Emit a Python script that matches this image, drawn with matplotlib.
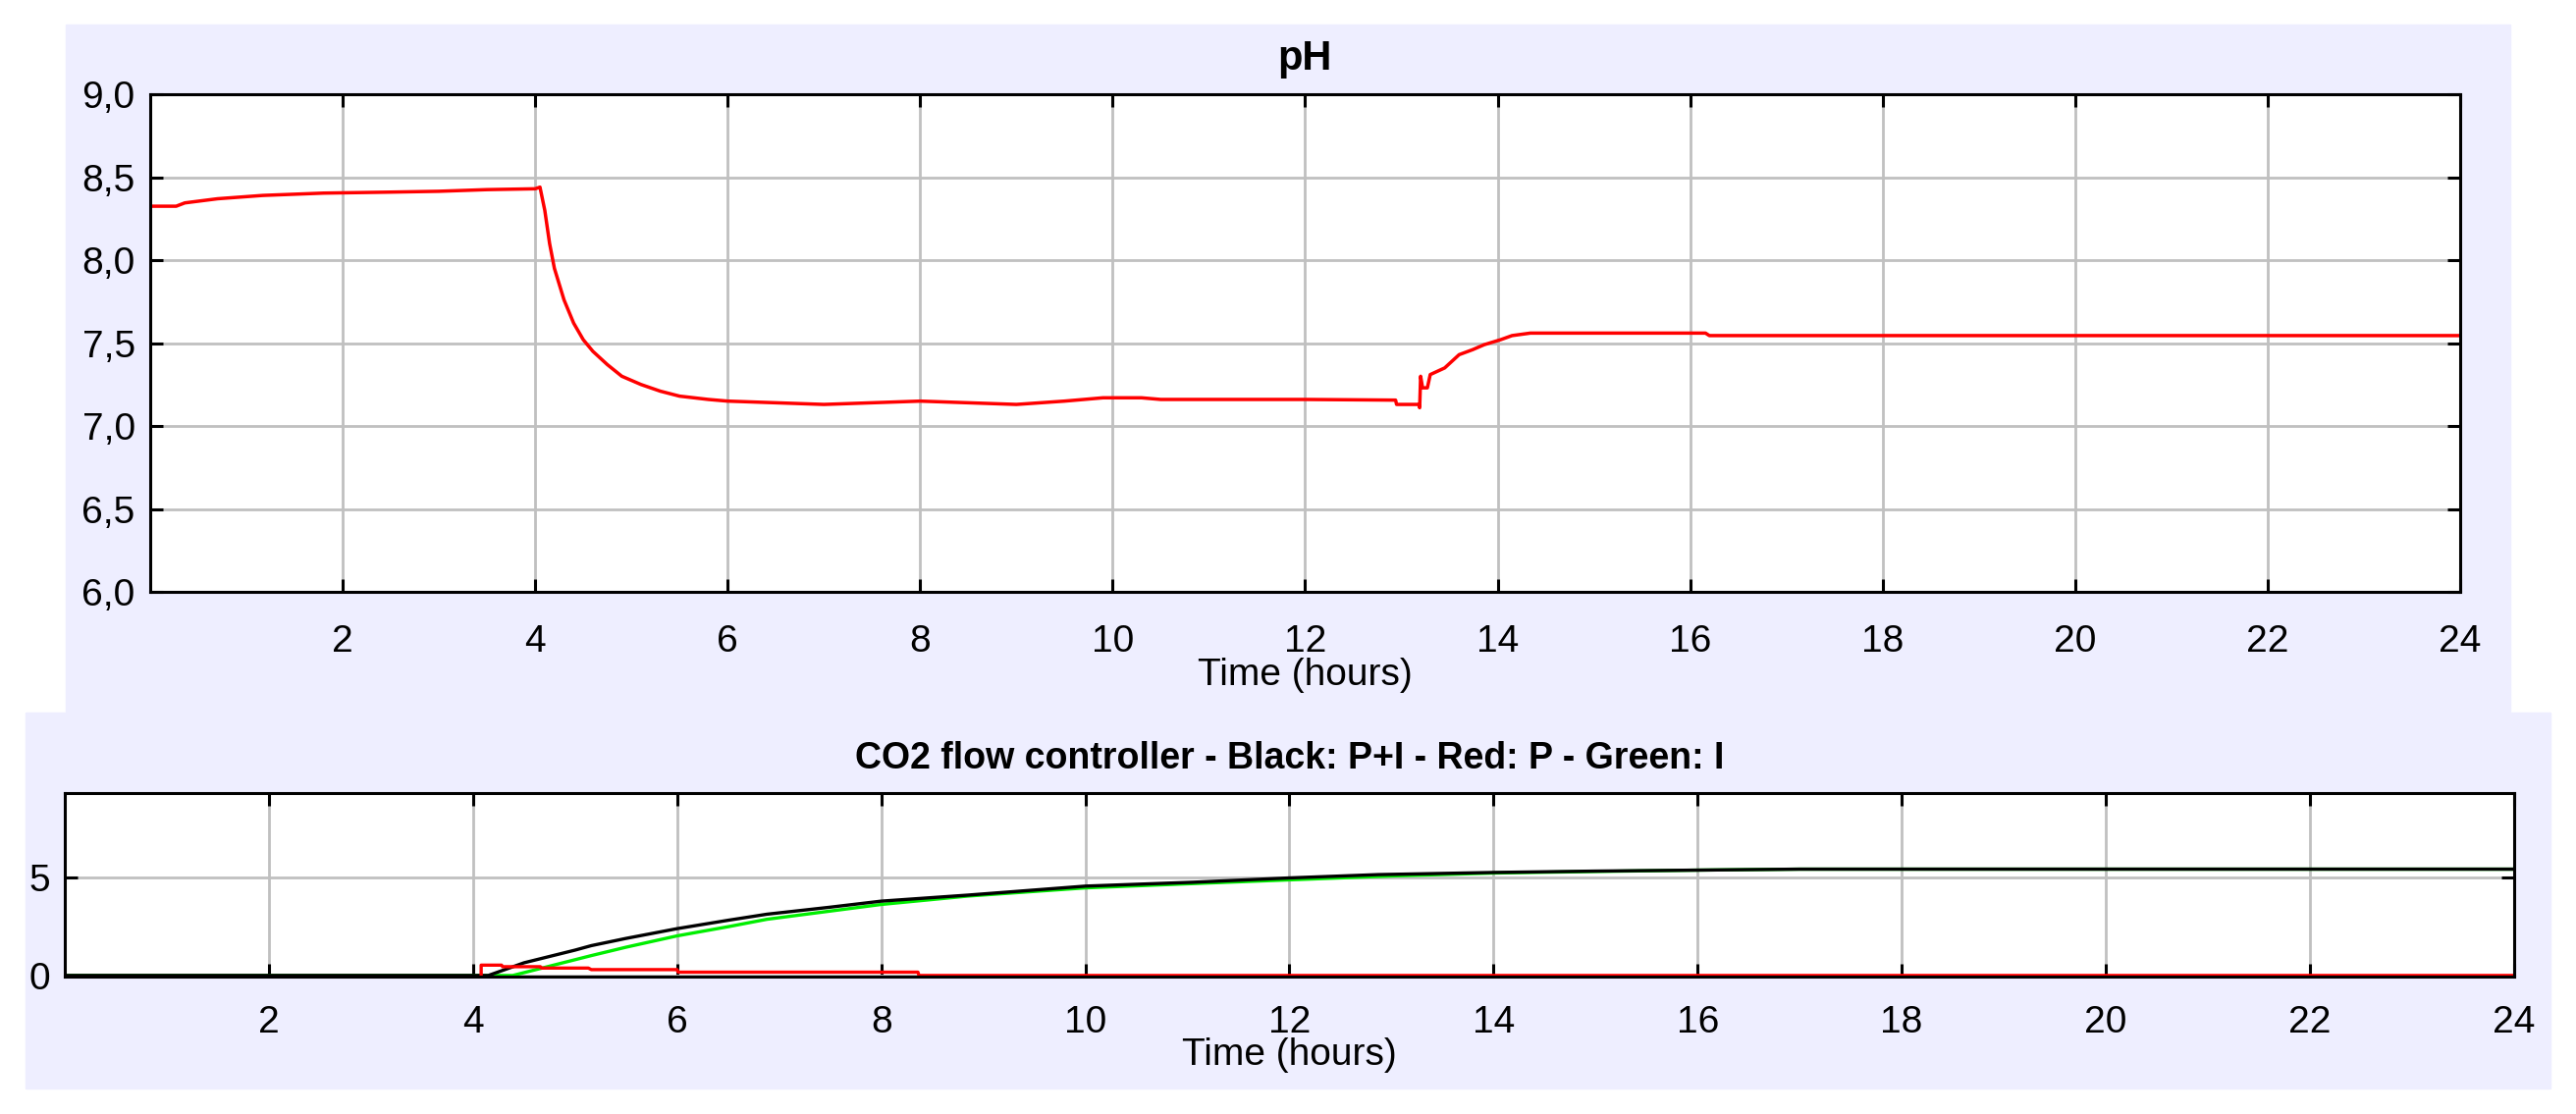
import matplotlib
matplotlib.use("Agg")
from matplotlib import pyplot as plt
from matplotlib.patches import Rectangle

# pH over the day
ph_time = [0.0, 0.27, 0.36, 0.7, 1.17, 1.8, 2.5, 3.0, 3.5, 4.0, 4.05,
           4.1, 4.15, 4.2, 4.3, 4.4, 4.5, 4.6, 4.75, 4.9, 5.1, 5.3, 5.5,
           5.8, 6.0, 6.5, 7.0, 7.5, 8.0, 8.5, 9.0, 9.5, 9.9, 10.3, 10.5,
           11.0, 12.0, 12.94, 12.95, 13.18, 13.19, 13.2, 13.22, 13.27,
           13.3, 13.45, 13.6, 13.74, 13.86, 14.03, 14.15, 14.34, 16.16,
           16.2, 24.0]
ph_value = [8.325, 8.325, 8.345, 8.37, 8.39, 8.404, 8.41, 8.415, 8.425, 8.43, 8.44,
            8.30, 8.10, 7.95, 7.76, 7.62, 7.52, 7.45, 7.37, 7.30, 7.25, 7.21, 7.18,
            7.16, 7.15, 7.14, 7.13, 7.14, 7.15, 7.14, 7.13, 7.15, 7.17, 7.17, 7.16,
            7.16, 7.16, 7.156, 7.13, 7.13, 7.11, 7.30, 7.23, 7.23,
            7.31, 7.35, 7.43, 7.46, 7.49, 7.52, 7.545, 7.56, 7.56,
            7.545, 7.545]

# CO2 flow controller terms
pi_time = [0.0, 4.15, 4.5, 5.0, 5.16, 5.5, 6.0, 6.5, 6.88, 7.5, 8.0, 8.85,
           10.0, 11.06, 12.0, 12.87, 14.0, 15.0, 16.0, 17.0, 24.0]
pi_value = [0.0, 0.0, 0.65, 1.3, 1.53, 1.9, 2.4, 2.83, 3.14, 3.5, 3.81, 4.12,
            4.58, 4.78, 5.0, 5.17, 5.28, 5.35, 5.4, 5.45, 5.45]

p_time = [4.08, 4.08, 4.28, 4.29, 4.66, 4.67, 5.13, 5.16, 6.0, 6.01, 8.36, 8.37, 24.0]
p_value = [0.0, 0.53, 0.53, 0.45, 0.45, 0.38, 0.38, 0.3, 0.3, 0.17, 0.17, 0.0, 0.0]

i_time = [0.0, 4.39, 5.16, 5.5, 6.0, 6.5, 6.88, 7.5, 8.0, 8.85, 10.0, 11.06,
          12.0, 13.0, 14.0, 15.0, 16.0, 17.0, 24.0]
i_value = [0.0, 0.0, 1.02, 1.45, 2.03, 2.5, 2.88, 3.3, 3.64, 4.07, 4.49, 4.71,
           4.9, 5.1, 5.25, 5.33, 5.4, 5.45, 5.45]

x_ticks = list(range(2, 25, 2))
ph_ticks = [6.0, 6.5, 7.0, 7.5, 8.0, 8.5, 9.0]
ph_tick_labels = ["6,0", "6,5", "7,0", "7,5", "8,0", "8,5", "9,0"]
flow_ticks = [0, 5]

plt.rcParams['font.family'] = ['Liberation Sans', 'DejaVu Sans']

fig = plt.figure(figsize=(26.24, 11.35), dpi=100)
panel = '#eeeeff'
fig.patches.append(Rectangle((0.02553, 0.3604), 0.9489, 0.6176,
                             transform=fig.transFigure, color=panel, zorder=-5))
fig.patches.append(Rectangle((0.00991, 0.02291), 0.9802, 0.3374,
                             transform=fig.transFigure, color=panel, zorder=-5))

ax1 = fig.add_axes([0.0583, 0.4687, 0.8967, 0.4467])
ax2 = fig.add_axes([0.02515, 0.1233, 0.9508, 0.1648])


def style(ax, xpad):
    ax.set_facecolor('white')
    for s in ax.spines.values():
        s.set_linewidth(2.2)
        s.set_color('black')
    ax.grid(True, color='#c0c0c0', linewidth=2.0)
    ax.set_axisbelow(True)
    ax.tick_params(direction='in', length=9.5, width=2.2, top=True, right=True,
                   labelsize=28, colors='black')
    ax.tick_params(axis='x', pad=xpad)
    ax.tick_params(axis='y', pad=11)
    ax.set_xlim(0, 24)
    ax.set_xticks(x_ticks)
    ax.set_xticklabels([str(t) for t in x_ticks])


style(ax1, 24)
ax1.plot(ph_time, ph_value, color='#ff0000', linewidth=2.5)
ax1.set_ylim(6.0, 9.0)
ax1.set_yticks(ph_ticks)
ax1.set_yticklabels(ph_tick_labels)
ax1.set_title('pH', fontsize=30, fontweight='bold', pad=18)
ax1.set_xlabel('Time (hours)', fontsize=28, labelpad=-2)

style(ax2, 21)
ax2.plot(i_time, i_value, color='#00ee00', linewidth=2.4)
ax2.plot(pi_time, pi_value, color='black', linewidth=2.4)
ax2.plot(p_time, p_value, color='#ff0000', linewidth=2.4)
ax2.set_ylim(-0.06, 9.35)
ax2.set_yticks(flow_ticks)
ax2.set_title('CO2 flow controller - Black: P+I - Red: P - Green: I',
              fontsize=27, fontweight='bold', pad=18)
ax2.set_xlabel('Time (hours)', fontsize=28, labelpad=-2)

fig.savefig('out.png', dpi=100)
